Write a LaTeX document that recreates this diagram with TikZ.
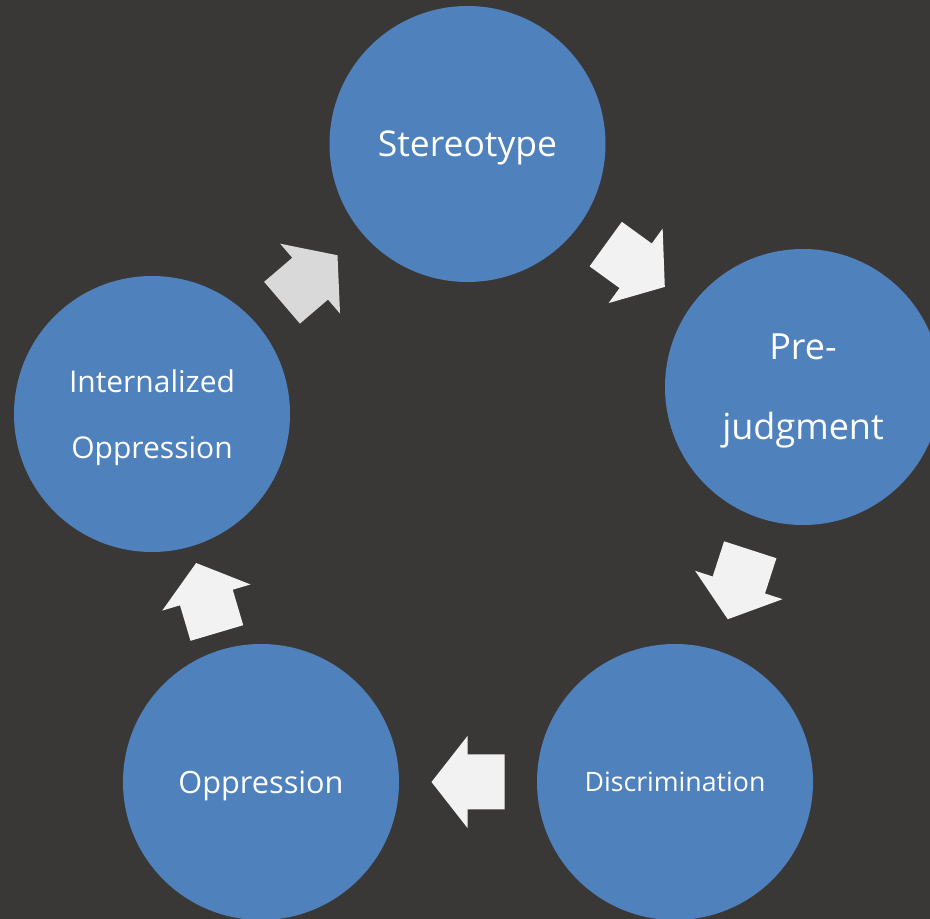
\documentclass[tikz,border=0pt]{standalone}
\usepackage{fontspec}
\setmainfont{Open Sans}
\usetikzlibrary{calc}
\definecolor{bgc}{RGB}{58,56,55}
\definecolor{circblue}{RGB}{79,129,189}
\definecolor{arrowlight}{RGB}{242,242,242}
\definecolor{arrowgray}{RGB}{217,217,217}
\newcommand\cycarrow[3]{%
  \fill[#3] let \p1=($(#2.center)-(#1.center)$), \n1={atan2(\y1,\x1)},
    \p2=($(#1.center)!0.5!(#2.center)$) in
    [shift={(\p2)}, rotate=\n1]
    (-36.5,-27.5) -- (0.5,-27.5) -- (0.5,-46) -- (36.5,0) -- (0.5,46) -- (0.5,27.5) -- (-36.5,27.5) -- cycle;}
\tikzset{
  stage/.style={circle, fill=circblue, draw=none, minimum size=276pt, inner sep=0pt,
    text=white, align=center},
}
\begin{document}
\begin{tikzpicture}[x=1pt,y=1pt]
\useasboundingbox (0,0) rectangle (930,919);
\fill[bgc] (0,0) rectangle (930,919);
\clip (0,0) rectangle (930,919);
\node[stage, text depth=0pt, font={\fontsize{35.5}{42}\selectfont}] (S) at (467.5,775) {Stereotype};
\node[stage, font={\fontsize{36}{80}\selectfont}] (P) at (803,532) {Pre-\\\smash{judgment}};
\node[stage, text depth=0pt, font={\fontsize{26.7}{32}\selectfont}] (D) at (675,137) {Discrimination};
\node[stage, text depth=0pt, font={\fontsize{30.7}{37}\selectfont}] (O) at (261,137) {Oppression};
\node[stage, font={\fontsize{30}{66}\selectfont}] (I) at (152,505) {Internalized\\\smash{Oppression}};
\cycarrow{S}{P}{arrowlight}
\cycarrow{P}{D}{arrowlight}
\cycarrow{D}{O}{arrowlight}
\cycarrow{O}{I}{arrowlight}
\cycarrow{I}{S}{arrowgray}
\end{tikzpicture}
\end{document}
